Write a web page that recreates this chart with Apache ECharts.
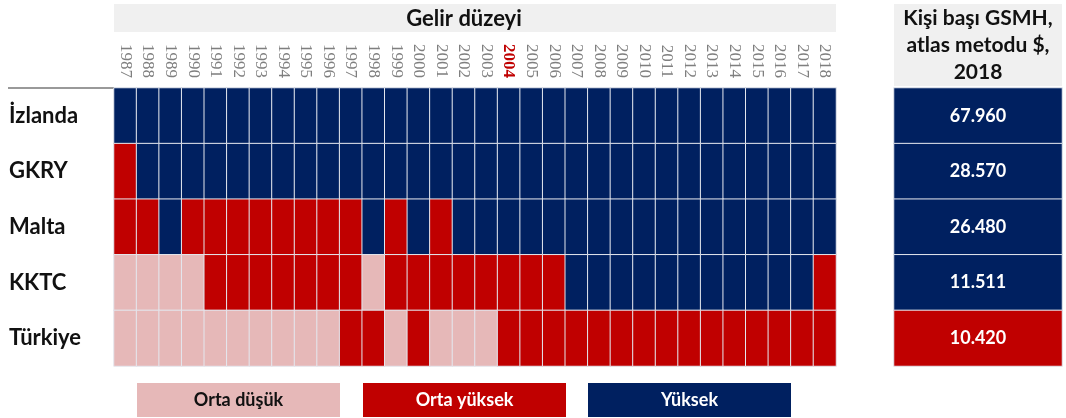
<!DOCTYPE html>
<html>
<head>
<meta charset="utf-8">
<script src="https://cdn.jsdelivr.net/npm/echarts@6/dist/echarts.min.js"></script>
<style>html,body{margin:0;padding:0;background:#fff}#c{width:1066px;height:418px}</style>
</head>
<body>
<div id="c"></div>
<script>
// ---- data ----
var years = ['1987','1988','1989','1990','1991','1992','1993','1994','1995','1996','1997','1998','1999','2000','2001','2002','2003','2004','2005','2006','2007','2008','2009','2010','2011','2012','2013','2014','2015','2016','2017','2018'];
var countries = ['İzlanda','GKRY','Malta','KKTC','Türkiye'];
// 1 = Orta düşük, 2 = Orta yüksek, 3 = Yüksek
var izlanda = [3,3,3,3,3,3,3,3,3,3,3,3,3,3,3,3,3,3,3,3,3,3,3,3,3,3,3,3,3,3,3,3];
var gkry    = [2,3,3,3,3,3,3,3,3,3,3,3,3,3,3,3,3,3,3,3,3,3,3,3,3,3,3,3,3,3,3,3];
var malta   = [2,2,3,2,2,2,2,2,2,2,2,3,2,3,2,3,3,3,3,3,3,3,3,3,3,3,3,3,3,3,3,3];
var kktc    = [1,1,1,1,2,2,2,2,2,2,2,1,2,2,2,2,2,2,2,2,3,3,3,3,3,3,3,3,3,3,3,2];
var turkiye = [1,1,1,1,1,1,1,1,1,1,2,2,1,2,1,1,1,2,2,2,2,2,2,2,2,2,2,2,2,2,2,2];
var gni2018 = [67960, 28570, 26480, 11511, 10420];
var gniLevel = [3,3,3,3,2];
var levelNames = ['Orta düşük','Orta yüksek','Yüksek'];
var gniHeader = 'Kişi başı GSMH,\natlas metodu $,\n2018';
var mainHeader = 'Gelir düzeyi';
var highlightYear = '2004';

// ---- build ----
var rows = [izlanda, gkry, malta, kktc, turkiye];
var heatData = [];
rows.forEach(function(r, yi){ r.forEach(function(v, xi){ heatData.push([xi, yi, v]); }); });
var gniData = gni2018.map(function(v, i){ return [0, i, gniLevel[i], v]; });
function fmt(n){ return String(n).replace(/\B(?=(\d{3})+(?!\d))/g, '.'); }

var C1 = '#E6B8B8', C2 = '#C00000', C3 = '#002060';
var FONT = 'Lato';

var chart = echarts.init(document.getElementById('c'), null, {renderer:'canvas'});
var legendX = [137, 363, 588], legendW = 203;
var legendGraphics = [];
[C1, C2, C3].forEach(function(col, i){
  legendGraphics.push({type:'rect', left:legendX[i], top:383, shape:{width:legendW, height:34}, style:{fill:col}});
  legendGraphics.push({type:'text', x:legendX[i]+legendW/2, y:400, style:{text:levelNames[i], fill: i===0?'#111':'#fff', font:'bold 18px '+FONT, textAlign:'center', textVerticalAlign:'middle'}});
});

chart.setOption({
  animation:false,
  backgroundColor:'#fff',
  graphic: [
    {type:'rect', left:114, top:4, shape:{width:722, height:28}, style:{fill:'#F0F0F0'}, z:-1},
    {type:'text', x:464, y:19, style:{text:mainHeader, fill:'#111', font:'bold 22px '+FONT, textAlign:'center', textVerticalAlign:'middle'}},
    {type:'rect', left:894, top:4, shape:{width:168, height:82}, style:{fill:'#F0F0F0'}, z:-1},
    {type:'text', x:978, y:45, style:{text:gniHeader, fill:'#111', font:'bold 21px '+FONT, lineHeight:27, textAlign:'center', textVerticalAlign:'middle'}},
    {type:'line', shape:{x1:8, y1:88, x2:114, y2:88}, style:{stroke:'#777', lineWidth:1.5}}
  ].concat(legendGraphics),
  visualMap: {
    type:'piecewise', show:false, dimension:2, seriesIndex:[0,1],
    pieces:[{value:1, color:C1},{value:2, color:C2},{value:3, color:C3}]
  },
  grid: [
    {left:114, top:88, width:722, height:278},
    {left:894, top:88, width:168, height:278}
  ],
  xAxis: [
    {type:'category', gridIndex:0, data:years, position:'top',
     axisLine:{show:false}, axisTick:{show:false}, splitArea:{show:false},
     axisLabel:{rotate:90, margin:10, color:'#7F7F7F', fontFamily:'Liberation Serif', fontSize:17,
       formatter:function(v){ return v===highlightYear ? '{hl|'+v+'}' : v; },
       rich:{hl:{color:'#C00000', fontWeight:'bold', fontFamily:'Liberation Serif', fontSize:17}}}},
    {type:'category', gridIndex:1, data:[''], show:false}
  ],
  yAxis: [
    {type:'category', gridIndex:0, data:countries, inverse:true,
     axisLine:{show:false}, axisTick:{show:false}, splitArea:{show:false},
     axisLabel:{align:'left', margin:105, color:'#111', fontFamily:FONT, fontWeight:'bold', fontSize:22}},
    {type:'category', gridIndex:1, data:countries, inverse:true, show:false}
  ],
  series: [
    {type:'heatmap', xAxisIndex:0, yAxisIndex:0, data:heatData,
     itemStyle:{borderColor:'#E4E7EE', borderWidth:1}, emphasis:{disabled:true}},
    {type:'heatmap', xAxisIndex:1, yAxisIndex:1, data:gniData,
     itemStyle:{borderColor:'#E4E7EE', borderWidth:1}, emphasis:{disabled:true},
     label:{show:true, color:'#fff', fontFamily:FONT, fontWeight:'bold', fontSize:18,
       formatter:function(p){ return fmt(p.data[3]); }}}
  ]
});
</script>
</body>
</html>
